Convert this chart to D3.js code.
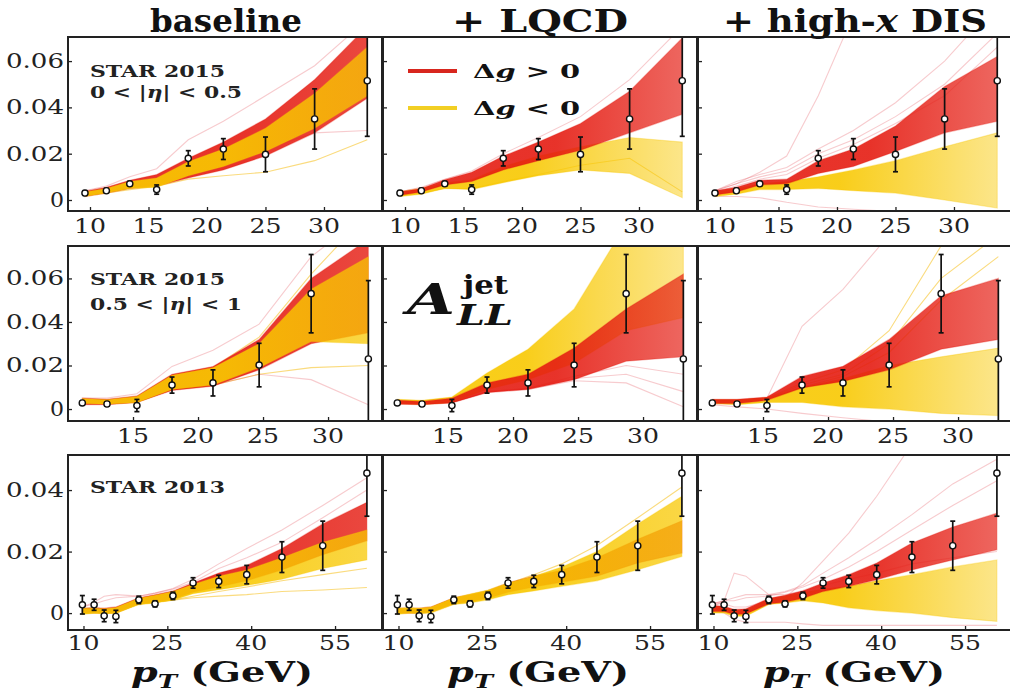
<!DOCTYPE html>
<html><head><meta charset="utf-8">
<script src="https://cdn.jsdelivr.net/npm/d3@7"></script>
<style>html,body{margin:0;padding:0;background:#fff;} svg{display:block;}</style>
</head><body><svg id="c" width="1010" height="699"></svg>
<script>
// ---------------- DATA ----------------
const columnTitles = ["baseline", "+ LQCD", "+ high-x DIS"];
const row1XTicks = [10, 15, 20, 25, 30];
const row2XTicks = [15, 20, 25, 30];
const row3XTicks = [10, 25, 40, 55];
const row1YTicks = [0, 0.02, 0.04, 0.06];
const row2YTicks = [0, 0.02, 0.04, 0.06];
const row3YTicks = [0, 0.02, 0.04];

// STAR 2015, 0<|eta|<0.5
const row1PT  = [9.57, 11.4, 13.4, 15.7, 18.4, 21.4, 25.0, 29.2, 33.7];
const row1Val = [0.003, 0.004, 0.007, 0.0045, 0.018, 0.022, 0.0197, 0.035, 0.0515];
const row1Err = [0.001, 0.001, 0.001, 0.002, 0.0033, 0.0045, 0.0075, 0.013, 0.024];
// STAR 2015, 0.5<|eta|<1
const row2PT  = [11.1, 13.0, 15.3, 18.0, 21.15, 24.7, 28.7, 33.1];
const row2Val = [0.0028, 0.0023, 0.0016, 0.011, 0.012, 0.0202, 0.053, 0.023];
const row2Err = [0.001, 0.001, 0.0028, 0.0037, 0.006, 0.010, 0.018, 0.036];
// STAR 2013
const row3PT  = [9.8, 11.9, 13.7, 15.8, 19.9, 22.8, 26.0, 29.6, 34.2, 39.2, 45.5, 52.8, 60.7];
const row3Val = [0.0027, 0.0027, -0.0009, -0.0011, 0.0043, 0.003, 0.0056, 0.0098, 0.0103, 0.0125, 0.0182, 0.0219, 0.0455];
const row3Err = [0.003, 0.0018, 0.0019, 0.002, 0.0012, 0.001, 0.0012, 0.0017, 0.002, 0.003, 0.005, 0.008, 0.014];

// replica envelopes: Δg>0 (red) and Δg<0 (yellow)
const b11RedLo = [0.0015, 0.003, 0.005, 0.006, 0.0095, 0.013, 0.019, 0.029, 0.044];
const b11RedHi = [0.0038, 0.0055, 0.0085, 0.011, 0.018, 0.025, 0.035, 0.052, 0.075];
const b11YelLo = [0.0015, 0.003, 0.005, 0.0055, 0.0105, 0.0145, 0.021, 0.031, 0.045];
const b11YelHi = [0.0035, 0.005, 0.008, 0.0095, 0.0165, 0.022, 0.031, 0.046, 0.066];
const b12RedLo = [0.002, 0.0035, 0.0065, 0.008, 0.013, 0.017, 0.0215, 0.029, 0.037];
const b12RedHi = [0.0036, 0.005, 0.0088, 0.012, 0.019, 0.025, 0.033, 0.047, 0.07];
const b12YelLo = [0.0015, 0.0025, 0.005, 0.0045, 0.0075, 0.0105, 0.013, 0.0115, 0.001];
const b12YelHi = [0.0036, 0.005, 0.0075, 0.0088, 0.0145, 0.019, 0.023, 0.027, 0.025];
const b13RedLo = [0.0022, 0.0035, 0.0065, 0.007, 0.0115, 0.0145, 0.021, 0.029, 0.034];
const b13RedHi = [0.004, 0.0055, 0.0085, 0.009, 0.017, 0.022, 0.032, 0.049, 0.062];
const b13YelLo = [0.0015, 0.0025, 0.0045, 0.0045, 0.005, 0.004, 0.003, 0.0, -0.0035];
const b13YelHi = [0.0035, 0.005, 0.007, 0.008, 0.010, 0.013, 0.017, 0.023, 0.029];

const b21RedLo = [0.002, 0.002, 0.003, 0.0085, 0.0105, 0.018, 0.03, 0.035];
const b21RedHi = [0.005, 0.0045, 0.006, 0.016, 0.0195, 0.032, 0.06, 0.078];
const b21YelLo = [0.0025, 0.0022, 0.003, 0.009, 0.011, 0.019, 0.031, 0.03];
const b21YelHi = [0.0048, 0.0043, 0.0058, 0.0155, 0.019, 0.03, 0.055, 0.07];
const b22RedLo = [0.0022, 0.002, 0.0028, 0.0075, 0.009, 0.0135, 0.022, 0.024];
const b22RedHi = [0.004, 0.0035, 0.005, 0.012, 0.016, 0.028, 0.046, 0.062];
const b22YelLo = [0.0025, 0.002, 0.003, 0.009, 0.0135, 0.021, 0.036, 0.042];
const b22YelHi = [0.0045, 0.004, 0.0055, 0.0166, 0.0275, 0.046, 0.085, 0.09];
const b23RedLo = [0.0025, 0.0025, 0.004, 0.0097, 0.0127, 0.018, 0.0275, 0.032];
const b23RedHi = [0.0045, 0.0045, 0.0055, 0.015, 0.0196, 0.032, 0.052, 0.06];
const b23YelLo = [0.0025, 0.002, 0.003, 0.003, 0.001, 0.0, -0.002, -0.003];
const b23YelHi = [0.004, 0.004, 0.005, 0.010, 0.014, 0.020, 0.024, 0.028];

const b31RedLo = [0.0, 0.0002, 0.0, 0.0002, 0.003, 0.0035, 0.0045, 0.0068, 0.0085, 0.0105, 0.014, 0.019, 0.0235];
const b31RedHi = [0.0016, 0.0018, 0.0016, 0.002, 0.005, 0.006, 0.0072, 0.0098, 0.013, 0.0155, 0.021, 0.029, 0.036];
const b31YelLo = [-0.0005, 0.0, -0.0002, 0.0, 0.0027, 0.0033, 0.0042, 0.0063, 0.0076, 0.009, 0.011, 0.0145, 0.0173];
const b31YelHi = [0.0016, 0.0016, 0.0014, 0.0018, 0.0048, 0.0058, 0.007, 0.0093, 0.012, 0.014, 0.018, 0.023, 0.027];
const b32RedLo = [0.0, 0.0, 0.0, 0.0003, 0.003, 0.0037, 0.0048, 0.0068, 0.0085, 0.010, 0.012, 0.0163, 0.0195];
const b32RedHi = [0.0016, 0.0016, 0.0016, 0.002, 0.005, 0.006, 0.0073, 0.0098, 0.012, 0.014, 0.018, 0.024, 0.03];
const b32YelLo = [-0.0005, 0.0, -0.0002, 0.0, 0.0028, 0.0033, 0.0043, 0.006, 0.0072, 0.0087, 0.0105, 0.0141, 0.0184];
const b32YelHi = [0.0016, 0.0018, 0.0016, 0.002, 0.005, 0.0062, 0.0075, 0.0098, 0.012, 0.015, 0.02, 0.029, 0.038];
const b33RedLo = [0.0005, 0.0005, -0.0005, -0.0003, 0.003, 0.0035, 0.0048, 0.007, 0.0087, 0.0108, 0.014, 0.0173, 0.0206];
const b33RedHi = [0.0025, 0.0022, 0.0012, 0.0014, 0.0048, 0.0058, 0.0073, 0.0098, 0.0125, 0.0163, 0.0228, 0.028, 0.0325];
const b33YelLo = [0.0, 0.0, -0.001, -0.001, 0.0028, 0.0033, 0.004, 0.0033, 0.0017, 0.0008, 0.0, -0.0015, -0.0027];
const b33YelHi = [0.0022, 0.002, 0.0008, 0.001, 0.0045, 0.0055, 0.0068, 0.0078, 0.0088, 0.0105, 0.0125, 0.015, 0.0173];

// individual outlying replicas
const o11 = [
  {c: "pink",   v: [0.004, 0.006, 0.010, 0.0135, 0.026, 0.034, 0.045, 0.058, 0.078]},
  {c: "pink",   v: [0.002, 0.0035, 0.006, 0.007, 0.011, 0.015, 0.022, 0.029, 0.030]},
  {c: "yellow", v: [0.002, 0.003, 0.0045, 0.006, 0.009, 0.0105, 0.012, 0.017, 0.026]}
];
const o12 = [
  {c: "pink",   v: [0.0036, 0.0055, 0.009, 0.0125, 0.020, 0.027, 0.036, 0.052, 0.075]},
  {c: "yellow", v: [0.002, 0.003, 0.005, 0.005, 0.008, 0.011, 0.015, 0.018, 0.0035]}
];
const o13 = [
  {c: "pink", v: [0.004, 0.007, 0.010, 0.0125, 0.020, 0.026, 0.036, 0.050, 0.072]},
  {c: "pink", v: [0.004, 0.008, 0.011, 0.014, 0.022, 0.030, 0.042, 0.060, 0.085]},
  {c: "pink", v: [0.004, 0.007, 0.012, 0.019, 0.045, 0.080, 0.10, 0.12, 0.14]},
  {c: "pink", v: [0.0035, 0.006, 0.009, 0.011, 0.018, 0.024, 0.033, 0.045, 0.066]},
  {c: "pink", v: [0.0015, 0.0015, 0.001, -0.001, -0.003, -0.004, -0.005, -0.006, -0.007]}
];
const o21 = [
  {c: "pink",   v: [0.005, 0.005, 0.007, 0.0196, 0.027, 0.039, 0.07, 0.09]},
  {c: "yellow", v: [0.003, 0.0025, 0.003, 0.009, 0.011, 0.016, 0.019, 0.020]},
  {c: "pink",   v: [0.003, 0.003, 0.004, 0.009, 0.011, 0.016, 0.0135, 0.002]},
  {c: "yellow", v: [0.004, 0.004, 0.005, 0.014, 0.019, 0.033, 0.062, 0.09]}
];
const o22 = [
  {c: "pink", v: [0.003, 0.0025, 0.003, 0.008, 0.009, 0.013, 0.012, 0.001]},
  {c: "pink", v: [0.003, 0.0025, 0.003, 0.008, 0.0095, 0.014, 0.016, 0.008]},
  {c: "pink", v: [0.003, 0.0025, 0.003, 0.008, 0.0095, 0.015, 0.020, 0.016]}
];
const o23 = [
  {c: "pink",   v: [0.004, 0.004, 0.005, 0.038, 0.055, 0.080, 0.10, 0.10]},
  {c: "pink",   v: [0.002, 0.001, 0.0, -0.002, -0.004, -0.006, -0.008, -0.009]},
  {c: "yellow", v: [0.004, 0.004, 0.005, 0.012, 0.018, 0.036, 0.075, 0.09]},
  {c: "yellow", v: [0.004, 0.004, 0.005, 0.011, 0.016, 0.030, 0.060, 0.08]},
  {c: "yellow", v: [0.004, 0.004, 0.005, 0.010, 0.015, 0.026, 0.050, 0.07]}
];
const o31 = [
  {c: "yellow", v: [0, 0, 0, 0, 0.003, 0.0035, 0.0043, 0.0055, 0.007, 0.0085, 0.0105, 0.0125, 0.0146]},
  {c: "yellow", v: [0, 0, 0, 0, 0.003, 0.0035, 0.0042, 0.005, 0.0055, 0.006, 0.007, 0.0075, 0.0083]},
  {c: "pink",   v: [0.002, 0.0035, 0.0055, 0.006, 0.0055, 0.0065, 0.008, 0.011, 0.016, 0.021, 0.027, 0.035, 0.044]},
  {c: "pink",   v: [0.002, 0.003, 0.004, 0.005, 0.0055, 0.0065, 0.0078, 0.010, 0.0145, 0.018, 0.023, 0.031, 0.040]}
];
const o32 = [
  {c: "yellow", v: [0, 0, 0, 0.001, 0.004, 0.005, 0.0065, 0.0095, 0.0125, 0.016, 0.022, 0.031, 0.041]}
];
const o33 = [
  {c: "pink", v: [0.003, 0.004, 0.005, 0.006, 0.006, 0.007, 0.009, 0.013, 0.018, 0.024, 0.032, 0.042, 0.050]},
  {c: "pink", v: [0.003, 0.004, 0.004, 0.005, 0.0055, 0.0068, 0.0085, 0.011, 0.015, 0.020, 0.027, 0.035, 0.043]},
  {c: "pink", v: [0.003, 0.003, 0.002, 0.002, 0.004, 0.005, 0.010, 0.017, 0.026, 0.038, 0.055, 0.08, 0.10]},
  {c: "pink", v: [0.002, 0.004, 0.013, 0.012, 0.006, 0.006, 0.007, 0.009, 0.011, 0.013, 0.016, 0.018, 0.020]},
  {c: "pink", v: [0.001, 0.0, -0.002, -0.003, -0.003, -0.003, -0.0035, -0.004, -0.004, -0.004, -0.004, -0.004, -0.004]}
];

const rowLabels = [["STAR 2015", "0 < |η| < 0.5"], ["STAR 2015", "0.5 < |η| < 1"], ["STAR 2013"]];

// ---------------- LAYOUT ----------------
const svg = d3.select("#c");
const colX = [68, 383, 698], panelW = 314;
const rowTop = [37, 246, 455], rowH = [174, 175, 175];
const yDomains = [[-0.00475, 0.0704], [-0.0055, 0.0749], [-0.0055, 0.0514]];
const xDomains = [[8.12, 34.96], [10.0, 34.15], [7.23, 63.4]];
const xLabelBase = [233, 443, 650];
const redOnTop = [[false, true, true], [false, true, true], [false, false, true]];
const RED = "#e51c12", YEL = "#f8c800";
const SERIF = "'DejaVu Serif', serif";

const rows = [
  {pt: row1PT, val: row1Val, err: row1Err, xt: row1XTicks, yt: row1YTicks, outl: [o11, o12, o13],
   bands: [[b11RedLo, b11RedHi, b11YelLo, b11YelHi], [b12RedLo, b12RedHi, b12YelLo, b12YelHi], [b13RedLo, b13RedHi, b13YelLo, b13YelHi]]},
  {pt: row2PT, val: row2Val, err: row2Err, xt: row2XTicks, yt: row2YTicks, outl: [o21, o22, o23],
   bands: [[b21RedLo, b21RedHi, b21YelLo, b21YelHi], [b22RedLo, b22RedHi, b22YelLo, b22YelHi], [b23RedLo, b23RedHi, b23YelLo, b23YelHi]]},
  {pt: row3PT, val: row3Val, err: row3Err, xt: row3XTicks, yt: row3YTicks, outl: [o31, o32, o33],
   bands: [[b31RedLo, b31RedHi, b31YelLo, b31YelHi], [b32RedLo, b32RedHi, b32YelLo, b32YelHi], [b33RedLo, b33RedHi, b33YelLo, b33YelHi]]}
];

const defs = svg.append("defs");

rows.forEach((row, r) => {
  row.bands.forEach((bd, c) => {
    const x0 = colX[c], y0 = rowTop[r], h = rowH[r];
    const x = d3.scaleLinear().domain(xDomains[r]).range([x0, x0 + panelW]);
    const y = d3.scaleLinear().domain(yDomains[r]).range([y0 + h, y0]);
    const cid = `clip${r}${c}`;
    defs.append("clipPath").attr("id", cid).append("rect")
      .attr("x", x0).attr("y", y0).attr("width", panelW).attr("height", h);
    // fading gradients: the spread-out ends of the bands are lighter
    const mkGrad = (id, col, startFrac, endOp) => {
      const gr = defs.append("linearGradient").attr("id", id).attr("gradientUnits", "userSpaceOnUse")
        .attr("x1", x0 + panelW * startFrac).attr("x2", x0 + panelW).attr("y1", 0).attr("y2", 0);
      gr.append("stop").attr("offset", 0).attr("stop-color", col).attr("stop-opacity", 0.9);
      gr.append("stop").attr("offset", 1).attr("stop-color", col).attr("stop-opacity", endOp);
    };
    const topRed = redOnTop[r][c];
    mkGrad(`gy${r}${c}`, YEL, c === 0 ? 0.5 : 0.45, (c === 0 || !topRed) ? 0.72 : 0.42);
    mkGrad(`gr${r}${c}`, RED, 0.55, c === 0 ? 0.8 : 0.65);

    const g = svg.append("g");
    const plot = g.append("g").attr("clip-path", `url(#${cid})`);

    const line = d3.line().x(d => x(d[0])).y(d => y(d[1]));
    const area = d3.area().x(d => x(d.p)).y0(d => y(d.lo)).y1(d => y(d.hi));

    // outliers
    row.outl[c].forEach(o => {
      plot.append("path").datum(row.pt.map((p, i) => [p, o.v[i]]))
        .attr("d", line).attr("fill", "none")
        .attr("stroke", o.c === "pink" ? "rgba(225,70,80,0.28)" : "rgba(245,190,20,0.55)")
        .attr("stroke-width", 1.1);
    });

    const [rl, rh, yl, yh] = bd;
    const redData = row.pt.map((p, i) => ({p, lo: rl[i], hi: rh[i]}));
    const yelData = row.pt.map((p, i) => ({p, lo: yl[i], hi: yh[i]}));
    const drawBand = (data, col, grad) => {
      plot.append("path").datum(data).attr("d", area)
        .attr("fill", `url(#${grad})`)
        .attr("stroke", col).attr("stroke-opacity", 0.3).attr("stroke-width", 1.2);
    };
    if (topRed) { drawBand(yelData, YEL, `gy${r}${c}`); drawBand(redData, RED, `gr${r}${c}`); }
    else { drawBand(redData, RED, `gr${r}${c}`); drawBand(yelData, YEL, `gy${r}${c}`); }

    // data points
    const pts = row.pt.map((p, i) => ({p, v: row.val[i], e: row.err[i]}));
    const eb = plot.append("g").attr("stroke", "#111").attr("stroke-width", 1.7);
    pts.forEach(d => {
      eb.append("line").attr("x1", x(d.p)).attr("x2", x(d.p)).attr("y1", y(d.v - d.e)).attr("y2", y(d.v + d.e));
      eb.append("line").attr("x1", x(d.p) - 2.5).attr("x2", x(d.p) + 2.5).attr("y1", y(d.v - d.e)).attr("y2", y(d.v - d.e));
      eb.append("line").attr("x1", x(d.p) - 2.5).attr("x2", x(d.p) + 2.5).attr("y1", y(d.v + d.e)).attr("y2", y(d.v + d.e));
    });
    plot.append("g").selectAll("circle").data(pts).join("circle")
      .attr("cx", d => x(d.p)).attr("cy", d => y(d.v)).attr("r", 3.1)
      .attr("fill", "#fff").attr("stroke", "#111").attr("stroke-width", 1.4);

    // axes (inward ticks)
    const xa = g.append("g").attr("transform", `translate(0,${y0 + h})`)
      .call(d3.axisBottom(x).tickValues(row.xt).tickSize(-4).tickFormat(""));
    const ya = g.append("g").attr("transform", `translate(${x0},0)`)
      .call(d3.axisLeft(y).tickValues(row.yt).tickSize(-4).tickFormat(""));
    [xa, ya].forEach(a => { a.select(".domain").remove(); a.selectAll("line").attr("stroke", "#222").attr("stroke-width", 1.3); });

    // x tick labels
    row.xt.forEach(t => {
      g.append("text").attr("x", x(t)).attr("y", xLabelBase[r]).attr("text-anchor", "middle")
        .attr("font-family", SERIF).attr("font-size", 20).attr("fill", "#222")
        .attr("textLength", 32).attr("lengthAdjust", "spacingAndGlyphs").text(t);
    });
    // y tick labels on first column
    if (c === 0) {
      row.yt.forEach(t => {
        const s = t === 0 ? "0" : d3.format(".2f")(t);
        g.append("text").attr("x", 64).attr("y", y(t) + 7).attr("text-anchor", "end")
          .attr("font-family", SERIF).attr("font-size", 20).attr("fill", "#222")
          .attr("textLength", t === 0 ? 14 : 58).attr("lengthAdjust", "spacingAndGlyphs").text(s);
      });
    }
    // frame
    g.append("rect").attr("x", x0).attr("y", y0).attr("width", panelW).attr("height", h)
      .attr("fill", "none").attr("stroke", "#222").attr("stroke-width", 2);
  });
});

// column titles
const titleCenters = [226, 540, 855];
const titleW = [152, 176, 264];
columnTitles.forEach((t, i) => {
  const tx = svg.append("text").attr("x", titleCenters[i]).attr("y", 32).attr("text-anchor", "middle")
    .attr("font-family", SERIF).attr("font-weight", "bold").attr("font-size", 31).attr("fill", "#111")
    .attr("textLength", titleW[i]).attr("lengthAdjust", "spacingAndGlyphs");
  if (t.includes("-x")) {
    tx.append("tspan").text("+ high-");
    tx.append("tspan").attr("font-style", "italic").text("x");
    tx.append("tspan").text(" DIS");
  } else tx.text(t);
});

// row labels
const rowLabelY = [[77, 98], [285, 310], [493]];
rowLabels.forEach((labs, r) => {
  labs.forEach((s, k) => {
    const tx = svg.append("text").attr("x", 90).attr("y", rowLabelY[r][k])
      .attr("font-family", SERIF).attr("font-weight", "bold").attr("font-size", 17).attr("fill", "#222")
      .attr("textLength", k === 0 ? 135 : 152).attr("lengthAdjust", "spacingAndGlyphs");
    if (s.includes("η")) {
      const [a, b] = s.split("η");
      tx.append("tspan").text(a);
      tx.append("tspan").attr("font-style", "italic").text("η");
      tx.append("tspan").text(b);
    } else tx.text(s);
  });
});

// legend
const legendItems = [{lab: " > 0", col: "#d8261e", y: 71}, {lab: " < 0", col: "#f2cf24", y: 108}];
legendItems.forEach(it => {
  svg.append("line").attr("x1", 408).attr("x2", 457).attr("y1", it.y).attr("y2", it.y)
    .attr("stroke", it.col).attr("stroke-width", 4);
  const tx = svg.append("text").attr("x", 473).attr("y", it.y + 7)
    .attr("font-family", SERIF).attr("font-weight", "bold").attr("font-size", 19).attr("fill", "#111")
    .attr("textLength", 107).attr("lengthAdjust", "spacingAndGlyphs");
  tx.append("tspan").text("Δ");
  tx.append("tspan").attr("font-style", "italic").text("g");
  tx.append("tspan").text(it.lab);
});

// A_LL^jet
svg.append("text").attr("x", 407).attr("y", 314).attr("font-family", SERIF).attr("font-weight", "bold")
  .attr("font-style", "italic").attr("font-size", 42).attr("fill", "#111")
  .attr("textLength", 48).attr("lengthAdjust", "spacingAndGlyphs").text("A");
svg.append("text").attr("x", 463).attr("y", 294).attr("font-family", SERIF).attr("font-weight", "bold")
  .attr("font-size", 26).attr("fill", "#111")
  .attr("textLength", 45).attr("lengthAdjust", "spacingAndGlyphs").text("jet");
svg.append("text").attr("x", 457).attr("y", 325).attr("font-family", SERIF).attr("font-weight", "bold")
  .attr("font-style", "italic").attr("font-size", 28).attr("fill", "#111")
  .attr("textLength", 56).attr("lengthAdjust", "spacingAndGlyphs").text("LL");

// x-axis titles
const xTitleCenters = [222, 538, 854];
xTitleCenters.forEach(cx => {
  const tx = svg.append("text").attr("x", cx).attr("y", 682).attr("text-anchor", "middle")
    .attr("font-family", SERIF).attr("font-weight", "bold").attr("font-size", 28).attr("fill", "#111")
    .attr("textLength", 182).attr("lengthAdjust", "spacingAndGlyphs");
  tx.append("tspan").attr("font-style", "italic").text("p");
  tx.append("tspan").attr("font-style", "italic").attr("font-size", 19).attr("dy", 6).text("T");
  tx.append("tspan").attr("dy", -6).text(" (GeV)");
});
</script>
</body></html>
